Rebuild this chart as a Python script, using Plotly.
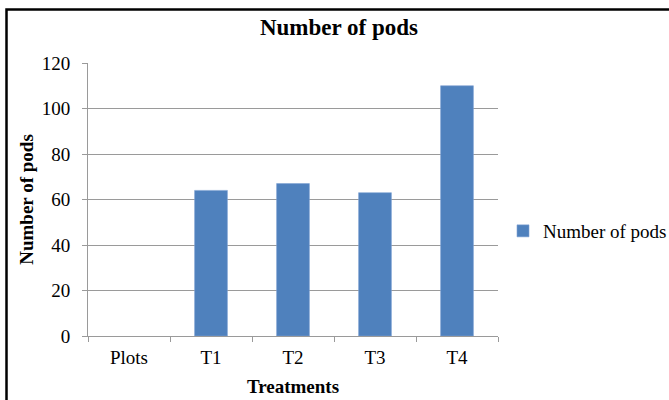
import plotly.graph_objects as go

# Pod counts per treatment
categories = ["Plots", "T1", "T2", "T3", "T4"]
pods = [None, 64, 67, 63, 110]
y_ticks = [0, 20, 40, 60, 80, 100, 120]

SERIF = "Liberation Serif, Times New Roman, serif"
GRID = "#9A9A9A"

fig = go.Figure()
fig.add_trace(go.Bar(
    x=categories,
    y=pods,
    name="Number of pods",
    marker=dict(color="#4F81BD", line=dict(color="#7FA3D3", width=0.6)),
))

fig.update_layout(
    width=669,
    height=400,
    margin=dict(l=88, r=171, t=63, b=64, autoexpand=False),
    paper_bgcolor="white",
    plot_bgcolor="white",
    bargap=0.6,
    font=dict(family=SERIF, size=19, color="black"),
    title=dict(
        text="<b>Number of pods</b>",
        x=339 / 669, xanchor="center",
        y=1 - 27 / 400, yanchor="middle",
        font=dict(family=SERIF, size=23, color="black"),
    ),
    showlegend=True,
    legend=dict(
        x=(503 - 88) / 410, xanchor="left",
        y=(336 - 231) / 273, yanchor="middle",
        font=dict(family=SERIF, size=19, color="black"),
        bgcolor="rgba(0,0,0,0)",
        itemwidth=30,
    ),
    xaxis=dict(
        type="category",
        showline=True, linecolor=GRID, linewidth=1,
        ticks="outside", tickson="boundaries", ticklen=5, tickcolor=GRID,
        showgrid=False,
        ticklabelstandoff=4,
        tickfont=dict(family=SERIF, size=19, color="black"),
        title=dict(text="<b>Treatments</b>", standoff=12,
                   font=dict(family=SERIF, size=19, color="black")),
    ),
    yaxis=dict(
        range=[0, 120],
        tickvals=y_ticks,
        showline=True, linecolor=GRID, linewidth=1,
        ticks="outside", ticklen=5, tickcolor=GRID,
        showgrid=True, gridcolor=GRID, gridwidth=1,
        zeroline=False,
        ticklabelstandoff=8,
        tickfont=dict(family=SERIF, size=19, color="black"),
        title=dict(text="<b>Number of pods</b>", standoff=3,
                   font=dict(family=SERIF, size=19, color="black")),
    ),
    shapes=[
        # outer chart frame (runs past the right and bottom edges)
        dict(type="rect", xref="paper", yref="paper",
             x0=(6.5 - 88) / 410, x1=(680 - 88) / 410,
             y0=(336 - 410) / 273, y1=(336 - 9.5) / 273,
             line=dict(color="black", width=2.5), fillcolor="rgba(0,0,0,0)",
             layer="above"),
    ],
)

fig.write_html("out.html")
